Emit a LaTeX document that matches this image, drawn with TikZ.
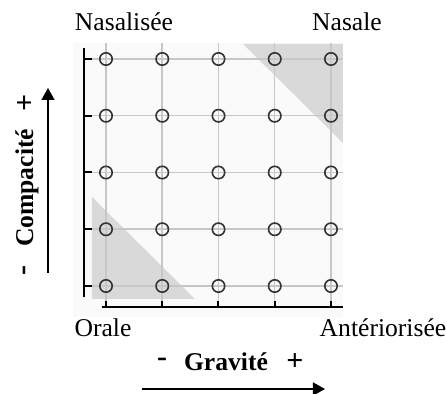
\documentclass[tikz,border=0pt]{standalone}
\usepackage{fontspec}
\setmainfont{Liberation Serif}
\usepackage{tikz}
\usetikzlibrary{arrows.meta}

\definecolor{panelgray}{gray}{0.98}
\definecolor{zonegray}{gray}{0.85}
\definecolor{gridgray}{gray}{0.78}

\tikzset{
  lbl/.style={inner sep=0pt, font=\fontsize{12.8}{15}\selectfont},
  bold lbl/.style={lbl, font=\fontsize{12.8}{15}\selectfont\bfseries},
  sign/.style={lbl, font=\fontsize{15}{17}\selectfont\bfseries},
  vowel/.style={circle, draw=black!80, line width=0.8pt, minimum size=6.2pt, inner sep=0pt},
  axis/.style={black, line width=1pt},
}

\begin{document}
\begin{tikzpicture}[x=0.5pt, y=-0.5pt, >={Triangle[length=6pt,width=6.5pt]}]
  \useasboundingbox (0,0) rectangle (447,394);
  \fill[panelgray] (73,43) rectangle (343,317);
  % zones
  \fill[zonegray] (243,44) -- (343,44) -- (343,143) -- cycle;
  \fill[zonegray] (92,197) -- (92,299) -- (195,299) -- cycle;
  % grid
  \foreach \i in {0,...,4}{
    \draw[gridgray, line width=0.75pt] (92,{286-56.75*\i}) -- (343,{286-56.75*\i});
    \draw[gridgray, line width=0.75pt] ({106+56.25*\i},43) -- ({106+56.25*\i},302);
  }
  % axes
  \draw[axis] (84,48) -- (84,297);
  \draw[axis] (102,307) -- (343,307);
  \foreach \i in {0,...,4}{
    \draw[axis] (84,{286-56.75*\i}) -- (92,{286-56.75*\i});
    \draw[axis] ({106+56.25*\i},307) -- ({106+56.25*\i},301);
  }
  % vowels
  \foreach \i in {0,...,4}
    \foreach \j in {0,...,4}
      \node[vowel] (v-\i-\j) at ({106+56.25*\i},{286-56.75*\j}) {};
  % corner labels
  \node[lbl] (nasalisee) at (124,22) {Nasalisée};
  \node[lbl] (nasale) at (347,22) {Nasale};
  \node[lbl] (orale) at (103,328) {Orale};
  \node[lbl] (anter) at (383,328) {Antériorisée};
  % gravite
  \node[bold lbl] (grav) at (226,362) {Gravité};
  \node[sign] (gmin) at (162,362) {-};
  \node[sign] (gplus) at (295,362) {+};
  \coordinate (g0) at (142,389);
  \coordinate (g1) at (325,389);
  \draw[->, line width=0.8pt] (g0) -- (g1);
  % compacite
  \node[bold lbl, rotate=90] (comp) at (27,188) {Compacité};
  \node[sign, rotate=90] (cmin) at (27,271) {-};
  \node[sign, rotate=90] (cplus) at (26,103) {+};
  \coordinate (c0) at (48,273);
  \coordinate (c1) at (48,88);
  \draw[->, line width=0.8pt] (c0) -- (c1);
\end{tikzpicture}
\end{document}
